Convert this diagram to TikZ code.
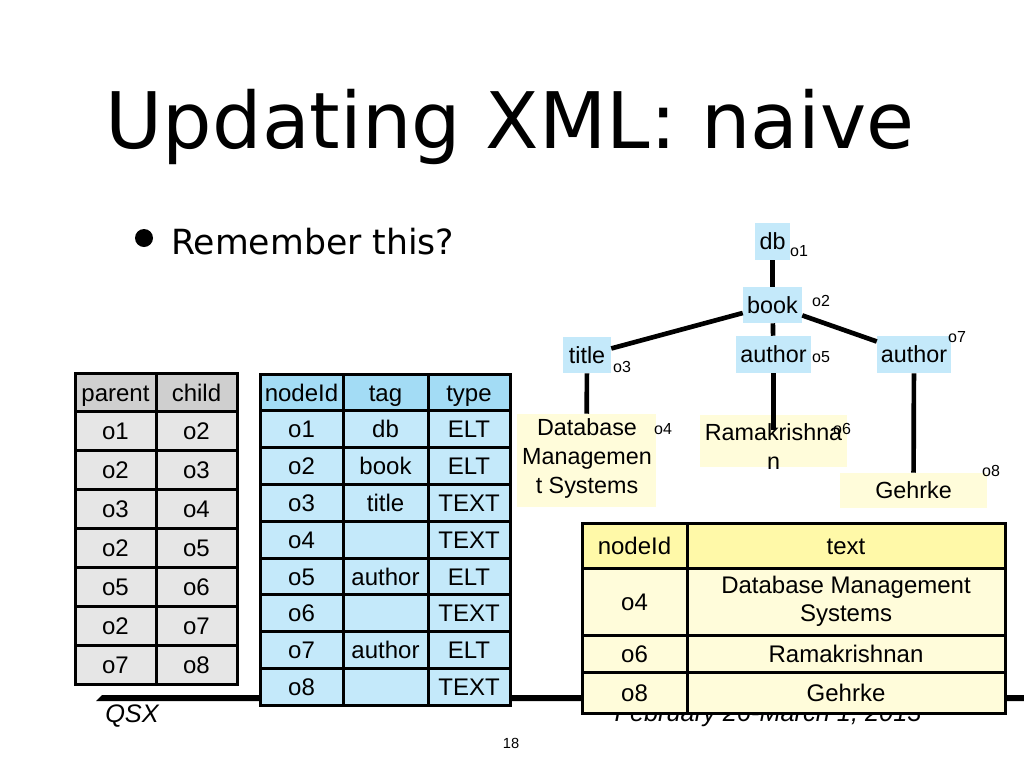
\documentclass[tikz,border=0pt]{standalone}
\usepackage{fontspec}
\setmainfont{Liberation Sans}
\newfontfamily\dejavu{DejaVu Sans}
\usetikzlibrary{calc}
\definecolor{tblue}{HTML}{C4E9FA}
\definecolor{hblue}{HTML}{A3DCF5}
\definecolor{tgray}{HTML}{E6E6E6}
\definecolor{hgray}{HTML}{CFCFCF}
\definecolor{tyel}{HTML}{FFFCDA}
\definecolor{hyel}{HTML}{FFF9A8}
\newcommand\treefnt{\fontsize{17.5}{21.75}\selectfont}
\tikzset{
  tline/.style={line width=2.25pt, line cap=rect},
  edge/.style={line width=3.5pt},
  bluebox/.style={fill=tblue, inner sep=0pt, font=\treefnt, text height=12.5pt, text depth=0pt},
  yelbox/.style={fill=tyel, inner sep=0pt},
  plain/.style={inner sep=0pt, font=\treefnt, align=center},
  olab/.style={inner sep=0pt, font=\fontsize{12}{14}\selectfont, text height=8.6pt, text depth=0pt},
  cell/.style={inner sep=0pt, font=\fontsize{18}{21}\selectfont, text height=12.9pt, text depth=0pt},
  mcell/.style={inner sep=0pt, font=\fontsize{18}{21}\selectfont, align=center},
}
\begin{document}
\begin{tikzpicture}[x=0.75pt,y=-0.75pt]
\useasboundingbox (0,0) rectangle (1024,768);

% title and bullet
\node[inner sep=0pt, anchor=base, font=\dejavu\fontsize{58.5}{70}\selectfont] (title) at (510,148) {Updating XML: naive};
\fill (144,238) circle (9);
\node[inner sep=0pt, anchor=base west, font=\dejavu\fontsize{26}{30}\selectfont] (rem) at (171,254) {Remember this?};

% footer line
\fill (96,701) -- (102,695) -- (1024,695) -- (1024,701) -- cycle;
\node[inner sep=0pt, anchor=base west, font=\itshape\fontsize{19}{22}\selectfont] (qsx) at (105,722) {QSX};
\node[inner sep=0pt, anchor=base, font=\itshape\fontsize{19}{22}\selectfont] (date) at (768,721) {February 26-March 1, 2013};
\node[inner sep=0pt, font=\fontsize{11}{13}\selectfont] (pg) at (511,743) {18};

% left table (parent/child)
\fill[hgray] (75,373) rectangle (237,412);
\fill[tgray] (75,412) rectangle (237,684);
\foreach \k in {1,...,7} { \draw[tline] (75,{373+\k*38.875}) -- (237,{373+\k*38.875}); }
\draw[tline] (156,373) -- (156,684);
\draw[tline] (75,373) rectangle (237,684);
\node[cell] (lph) at (115.5,392.4) {parent};
\node[cell] (lch) at (196.5,392.4) {child};
\foreach \p/\c [count=\i] in {o1/o2,o2/o3,o3/o4,o2/o5,o5/o6,o2/o7,o7/o8} {
  \node[cell] (lp\i) at (115.5,{373+(\i+0.5)*38.875}) {\p};
  \node[cell] (lc\i) at (196.5,{373+(\i+0.5)*38.875}) {\c};
}

% middle table (nodeId/tag/type)
\fill[hblue] (260,374) rectangle (510,410.8);
\fill[tblue] (260,410.8) rectangle (510,705);
\foreach \k in {1,...,8} { \draw[tline] (260,{374+\k*36.8}) -- (510,{374+\k*36.8}); }
\draw[tline] (343,374) -- (343,705);
\draw[tline] (428,374) -- (428,705);
\draw[tline] (260,374) rectangle (510,705);
\node[cell] (mh1) at (301.5,392.4) {nodeId};
\node[cell] (mh2) at (385.5,392.4) {tag};
\node[cell] (mh3) at (469,392.4) {type};
\foreach \a/\b/\c [count=\i] in {o1/db/ELT,o2/book/ELT,o3/title/TEXT,o4//TEXT,o5/author/ELT,o6//TEXT,o7/author/ELT,o8//TEXT} {
  \node[cell] (ma\i) at (301.5,{374+(\i+0.5)*36.8}) {\a};
  \node[cell] (mb\i) at (385.5,{374+(\i+0.5)*36.8}) {\b};
  \node[cell] (mc\i) at (469,{374+(\i+0.5)*36.8}) {\c};
}

% tree boxes
\node[bluebox, minimum width=35*0.75pt, minimum height=37*0.75pt] (db) at (772.5,241.5) {db};
\node[bluebox, minimum width=59*0.75pt, minimum height=36*0.75pt] (book) at (772.5,305) {book};
\node[bluebox, minimum width=48*0.75pt, minimum height=36*0.75pt] (ttl) at (587,355) {title};
\node[bluebox, minimum width=75*0.75pt, minimum height=37*0.75pt] (a5) at (773.5,354.5) {author};
\node[bluebox, minimum width=74*0.75pt, minimum height=37*0.75pt] (a7) at (914,354.5) {author};
\node[yelbox, minimum width=139*0.75pt, minimum height=93*0.75pt] (dbs) at (586.5,460.5) {};
\node[yelbox, minimum width=147*0.75pt, minimum height=52*0.75pt] (rama) at (773.5,441) {};
\node[yelbox, minimum width=147*0.75pt, minimum height=35*0.75pt] (geh) at (913.5,490.5) {};

% tree edges
\draw[edge] (db) -- (book);
\draw[edge] (book) -- (ttl);
\draw[edge] (book) -- (a5);
\draw[edge] (book) -- (a7);
\draw[edge] (ttl) -- (dbs);
\draw[edge] (a5.south) -- ($(rama.north)+(0,15)$);
\draw[edge] (a7) -- (geh);

% text in yellow boxes
\node[plain] (dbst) at (587,458) {Database\\Managemen\\t Systems};
\node[plain] (ramat) at (773.5,447) {Ramakrishna\\n};
\node[plain, text height=12.5pt, text depth=0pt] (geht) at (913.5,490.5) {Gehrke};

% object ids
\node[olab] (o1) at (799,251) {o1};
\node[olab] (o2) at (821,301) {o2};
\node[olab] (o3) at (622,367) {o3};
\node[olab] (o4) at (663,429) {o4};
\node[olab] (o5) at (821,357) {o5};
\node[olab] (o6) at (842,429) {o6};
\node[olab] (o7) at (957,337) {o7};
\node[olab] (o8) at (991,471) {o8};

% right table (nodeId/text)
\fill[hyel] (582,523) rectangle (1005,568);
\fill[tyel] (582,568) rectangle (1005,713);
\draw[tline] (582,568) -- (1005,568);
\draw[tline] (582,635) -- (1005,635);
\draw[tline] (582,672) -- (1005,672);
\draw[tline] (687,523) -- (687,713);
\draw[tline] (582,523) rectangle (1005,713);
\node[cell] (rh1) at (634.5,545.5) {nodeId};
\node[cell] (rh2) at (846,545.5) {text};
\node[cell] (r1a) at (634.5,601.5) {o4};
\node[mcell] (r1b) at (846,601.5) {Database Management\\Systems};
\node[cell] (r2a) at (634.5,653.5) {o6};
\node[cell] (r2b) at (846,653.5) {Ramakrishnan};
\node[cell] (r3a) at (634.5,692.5) {o8};
\node[cell] (r3b) at (846,692.5) {Gehrke};
\end{tikzpicture}
\end{document}
